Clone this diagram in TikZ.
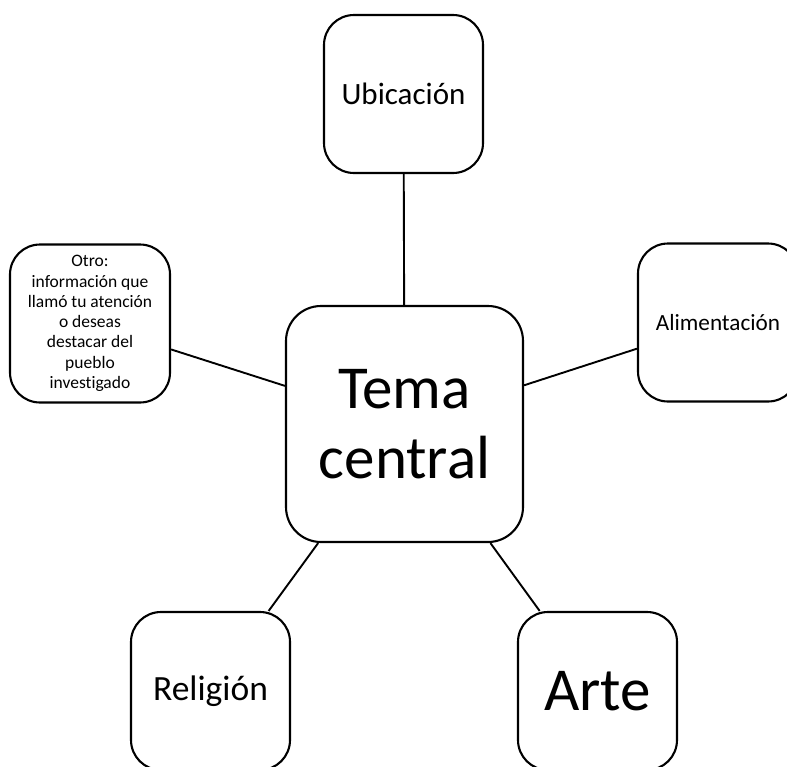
\documentclass[tikz,border=0pt]{standalone}
\usepackage{fontspec}
\setmainfont{Carlito}[Ligatures=NoCommon]
\begin{document}
\begin{tikzpicture}[x=1pt,y=-1pt,
  box/.style={draw=black, line width=2.1pt, rounded corners=30pt, fill=white,
    inner sep=0pt, align=center, text=black},
  small/.style={box, minimum width=159pt, minimum height=158pt},
  link/.style={draw=black, line width=1.9pt}]
\useasboundingbox (0,0) rectangle (787,766);
\clip (0,0) rectangle (787,766);
\fill[white] (0,0) rectangle (787,766);
\node[box, rounded corners=35pt, minimum width=237pt, minimum height=236pt,
  font=\fontsize{61}{70}\selectfont] (tema) at (404.5,424) {Tema\\central};
\node[small, font=\fontsize{31}{37}\selectfont] (ubi) at (403.5,94) {Ubicación};
\node[small, minimum width=160pt, font=\fontsize{17.5}{20.3}\selectfont] (otro) at (90,323.5)
  {Otro:\\información que\\llamó tu atención\\o deseas\\destacar del\\pueblo\\investigado};
\node[small, minimum width=160pt, font=\fontsize{23.2}{28}\selectfont] (alim) at (718,322.5) {Alimentación};
\node[small, font=\fontsize{35.5}{42}\selectfont] (rel) at (210.5,691) {Religión};
\node[small, font=\fontsize{61}{70}\selectfont] (arte) at (597.5,691) {Arte};
\path[link] (ubi) -- (tema);
\path[link] (otro) -- (tema);
\path[link] (alim) -- (tema);
\path[link] (rel) -- (tema);
\path[link] (arte) -- (tema);
\end{tikzpicture}
\end{document}
